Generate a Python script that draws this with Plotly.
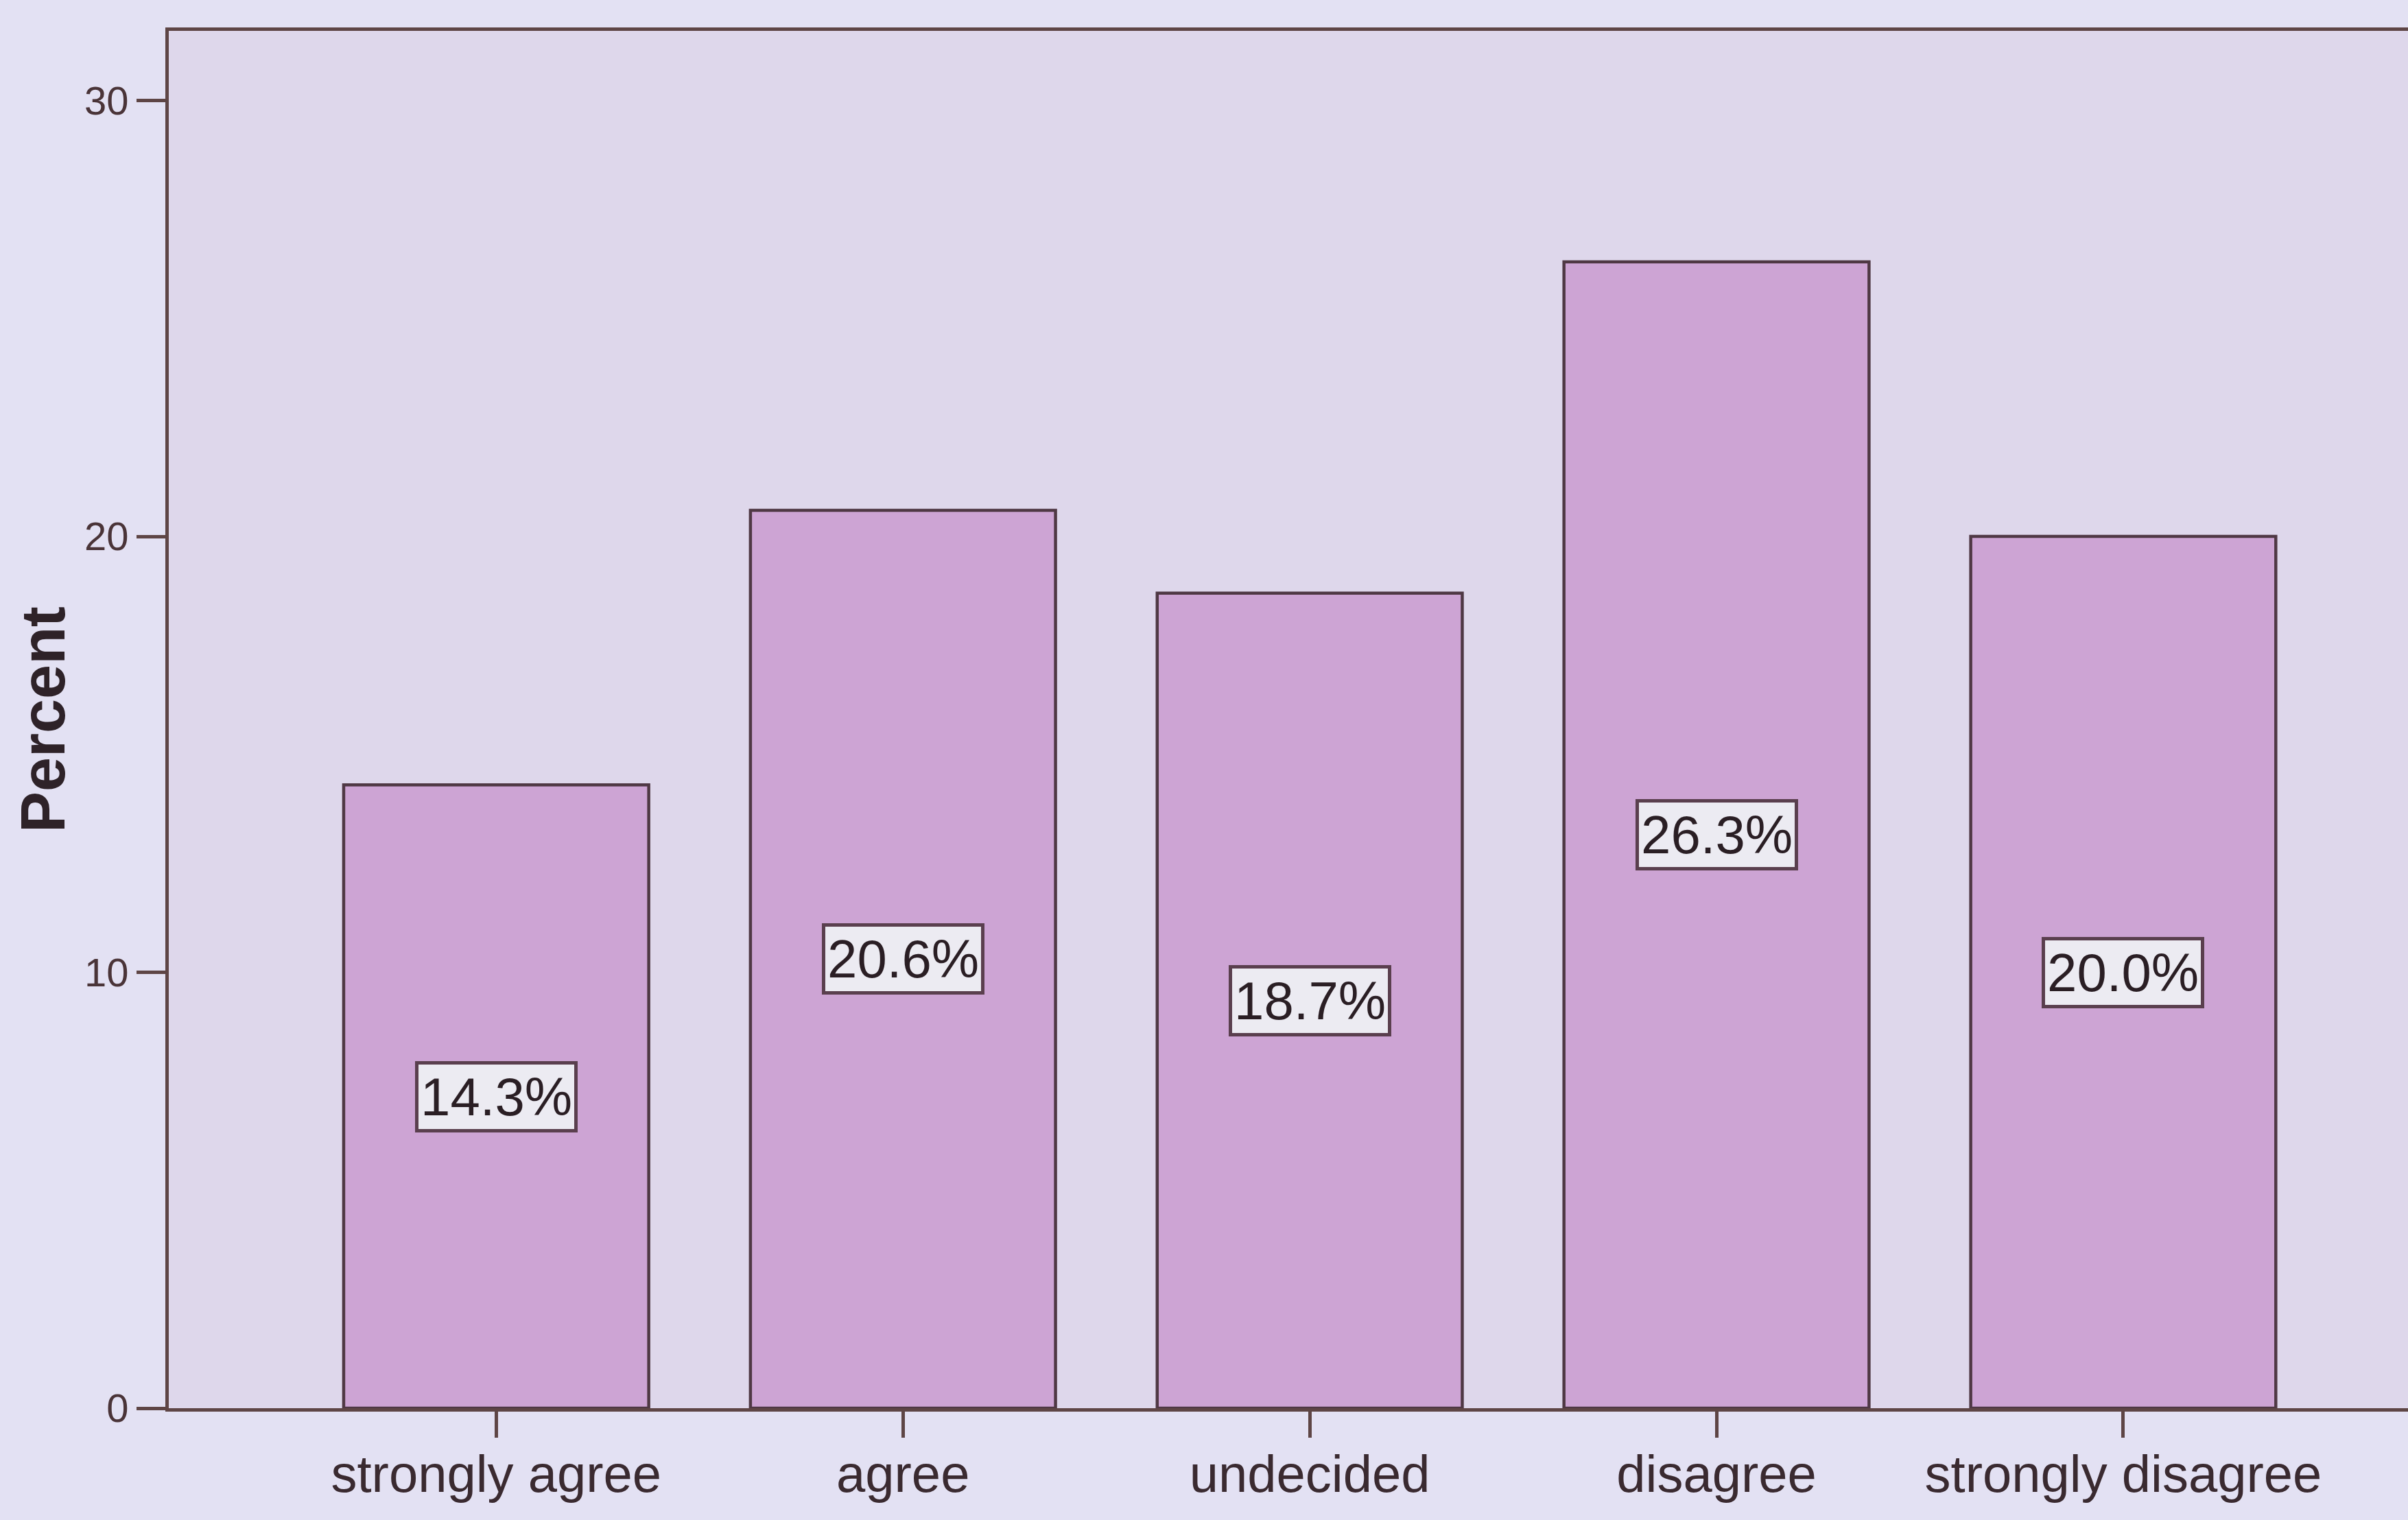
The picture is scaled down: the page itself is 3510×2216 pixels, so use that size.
import plotly.graph_objects as go

# Survey response distribution
categories = ["strongly agree", "agree", "undecided", "disagree", "strongly disagree"]
percents = [14.3, 20.6, 18.7, 26.3, 20.0]
y_ticks = [0, 10, 20, 30]

FONT = "Liberation Sans, Arial, sans-serif"
INK = "#4a3440"
AXIS = "#5e4545"

fig = go.Figure()
fig.add_trace(go.Bar(
    x=categories,
    y=percents,
    width=0.75,
    marker=dict(color="#cda4d4", line=dict(color="#4f3844", width=4.5)),
    hoverinfo="x+y",
    showlegend=False,
))

# Boxed value labels at mid-height of each bar
for cat, v in zip(categories, percents):
    fig.add_annotation(
        x=cat, y=v / 2, text=f"{v:.1f}%", showarrow=False,
        font=dict(family=FONT, size=78, color="#2a1e24"),
        bgcolor="#ecebf2", bordercolor="#5a3f4e", borderwidth=5, borderpad=3,
    )

fig.update_layout(
    width=3510, height=2216,
    margin=dict(l=246, r=0, t=45, b=163),
    paper_bgcolor="#e3e1f3",
    plot_bgcolor="#ded7eb",
    font=dict(family=FONT, color=INK),
)
fig.update_xaxes(
    range=[-0.805, 4.70],
    showline=True, linecolor=AXIS, linewidth=5, mirror=True,
    ticks="outside", ticklen=38, tickwidth=5, tickcolor=AXIS,
    tickfont=dict(family=FONT, size=76, color="#3a2a30"),
    ticklabelstandoff=-12,
    showgrid=False, zeroline=False,
)
fig.update_yaxes(
    range=[0, 31.6],
    tickvals=y_ticks, ticktext=[str(t) for t in y_ticks],
    showline=True, linecolor=AXIS, linewidth=5,
    ticks="outside", ticklen=42, tickwidth=5, tickcolor=AXIS,
    tickfont=dict(family=FONT, size=58, color="#4a3438"),
    showgrid=False, zeroline=False,
    title=dict(text="<b>Percent</b>", font=dict(family=FONT, size=90, color="#2e2228"), standoff=0),
)

fig.write_html("out.html")
